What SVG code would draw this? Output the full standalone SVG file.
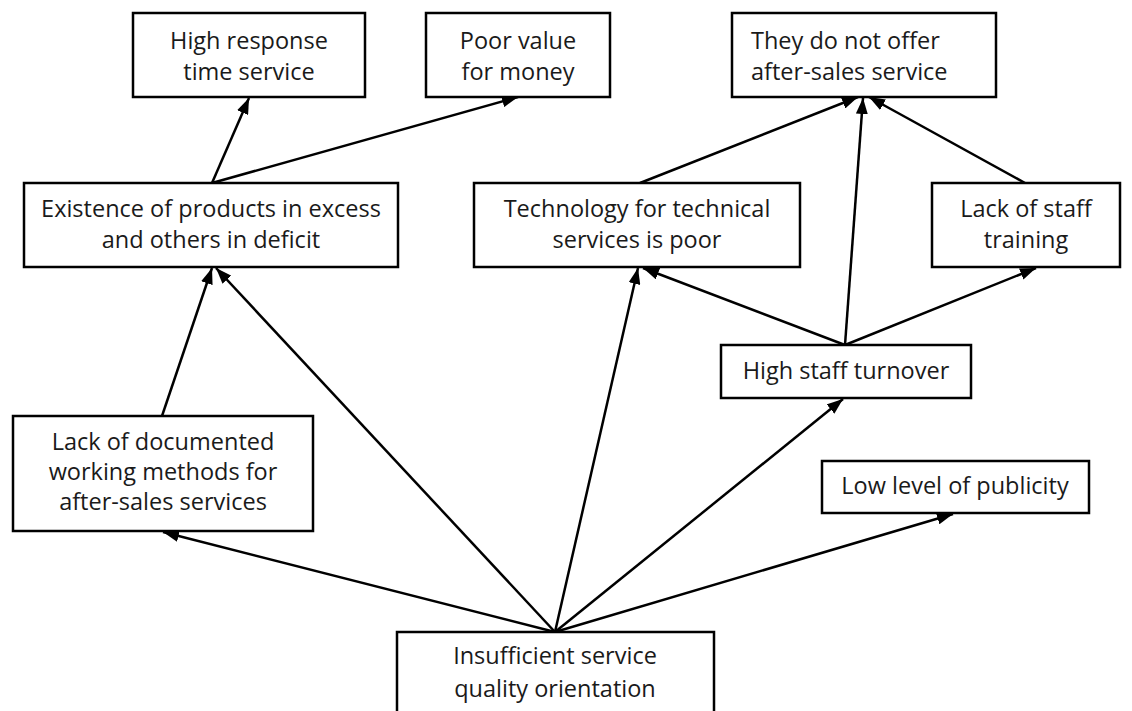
<svg xmlns="http://www.w3.org/2000/svg" width="1132" height="711" viewBox="0 0 1132 711">
  <defs>
    <marker id="arrow" viewBox="0 0 16 12" refX="16" refY="6" markerWidth="16" markerHeight="12" markerUnits="userSpaceOnUse" orient="auto">
      <path d="M0,0 L16,6 L0,12 Z" fill="#000"/>
    </marker>
    <style>
      .box { fill: #fff; stroke: #000; stroke-width: 2.5; }
      .lbl { font-family: "Open Sans", "Liberation Sans", sans-serif; font-size: 23.5px; fill: #1a1a1a; text-anchor: middle; }
      .edge { stroke: #000; stroke-width: 2.5; fill: none; }
      .tip { marker-end: url(#arrow); }
    </style>
  </defs>
  <rect width="1132" height="711" fill="#fff"/>

  <!-- connectors -->
  <g id="connectors">
    <line class="edge tip" x1="212" y1="183" x2="249" y2="98"/>
    <line class="edge tip" x1="212" y1="183" x2="518" y2="97"/>
    <line class="edge tip" x1="640" y1="183" x2="858" y2="97"/>
    <line class="edge tip" x1="845" y1="345" x2="863" y2="98"/>
    <line class="edge tip" x1="1025" y1="183" x2="869" y2="97"/>
    <line class="edge tip" x1="845" y1="345" x2="643" y2="268"/>
    <line class="edge tip" x1="845" y1="345" x2="1036" y2="268"/>
    <line class="edge tip" x1="162" y1="416" x2="212" y2="268"/>
    <line class="edge tip" x1="555" y1="632" x2="216" y2="268"/>
    <line class="edge tip" x1="555" y1="632" x2="638" y2="268"/>
    <line class="edge tip" x1="555" y1="632" x2="843" y2="399"/>
    <line class="edge tip" x1="555" y1="632" x2="953" y2="514"/>
    <line class="edge tip" x1="555" y1="632" x2="163" y2="532"/>
  </g>

  <g id="high-response">
    <rect class="box" x="133" y="13" width="232" height="84"/>
    <text class="lbl" x="249" y="49">High response</text>
    <text class="lbl" x="249" y="80">time service</text>
  </g>

  <g id="poor-value">
    <rect class="box" x="426" y="13" width="184" height="84"/>
    <text class="lbl" x="518" y="49">Poor value</text>
    <text class="lbl" x="518" y="80">for money</text>
  </g>

  <g id="no-after-sales">
    <rect class="box" x="732" y="13" width="264" height="84"/>
    <text class="lbl" x="751" y="49" style="text-anchor:start">They do not offer</text>
    <text class="lbl" x="751" y="80" style="text-anchor:start">after-sales service</text>
  </g>

  <g id="existence">
    <rect class="box" x="24" y="183" width="374" height="84"/>
    <text class="lbl" x="211" y="217">Existence of products in excess</text>
    <text class="lbl" x="211" y="248">and others in deficit</text>
  </g>

  <g id="technology">
    <rect class="box" x="474" y="183" width="326" height="84"/>
    <text class="lbl" x="637" y="217">Technology for technical</text>
    <text class="lbl" x="637" y="248">services is poor</text>
  </g>

  <g id="staff-training">
    <rect class="box" x="932" y="183" width="188" height="84"/>
    <text class="lbl" x="1026" y="217">Lack of staff</text>
    <text class="lbl" x="1026" y="248">training</text>
  </g>

  <g id="staff-turnover">
    <rect class="box" x="721" y="345" width="250" height="53"/>
    <text class="lbl" x="846" y="379">High staff turnover</text>
  </g>

  <g id="publicity">
    <rect class="box" x="822" y="461" width="267" height="52"/>
    <text class="lbl" x="955" y="494">Low level of publicity</text>
  </g>

  <g id="documented-methods">
    <rect class="box" x="13" y="416" width="300" height="115"/>
    <text class="lbl" x="163" y="450">Lack of documented</text>
    <text class="lbl" x="163" y="480">working methods for</text>
    <text class="lbl" x="163" y="510">after-sales services</text>
  </g>

  <g id="quality-orientation">
    <rect class="box" x="397" y="632" width="317" height="100"/>
    <text class="lbl" x="555" y="664">Insufficient service</text>
    <text class="lbl" x="555" y="697">quality orientation</text>
  </g>
</svg>
